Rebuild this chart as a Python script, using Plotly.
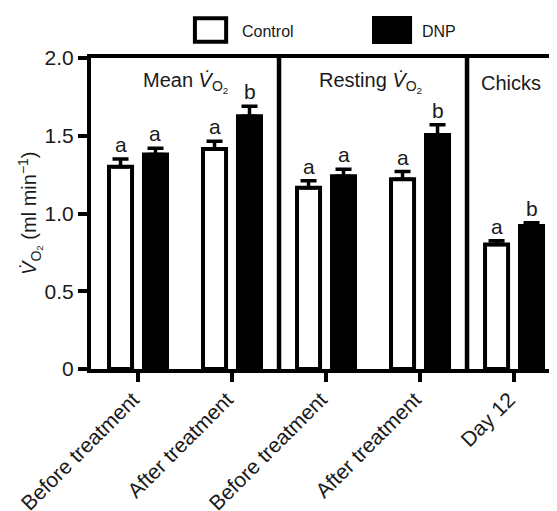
import plotly.graph_objects as go

categories = ["Before treatment", "After treatment", "Before treatment", "After treatment", "Day 12"]
control = [1.30, 1.415, 1.165, 1.22, 0.80]
control_err = [0.05, 0.05, 0.045, 0.05, 0.025]
dnp = [1.38, 1.625, 1.24, 1.505, 0.92]
dnp_err = [0.04, 0.065, 0.045, 0.065, 0.02]
control_letters = ["a", "a", "a", "a", "a"]
dnp_letters = ["a", "b", "a", "b", "b"]
panel_titles = ["Mean <i>V\u0307</i><sub>O<sub>2</sub></sub>",
                "Resting <i>V\u0307</i><sub>O<sub>2</sub></sub>",
                "Chicks"]
panel_centers = [0.5, 2.47, 3.97]
dividers = [1.5, 3.5]
ytick_vals = [0, 0.5, 1.0, 1.5, 2.0]
ytick_text = ["0", "0.5", "1.0", "1.5", "2.0"]

FONT = "Liberation Sans, Arial, sans-serif"
TXT = "#1a1a1a"
xs = list(range(len(categories)))
W = 0.245
OFF = 0.186

fig = go.Figure()
fig.add_trace(go.Bar(
    x=xs, y=control, width=W, offset=-OFF - W / 2, name="Control",
    marker=dict(color="white", line=dict(color="black", width=4)),
    error_y=dict(type="data", array=control_err, arrayminus=[0] * 5, symmetric=False,
                 color="black", thickness=3.5, width=8),
))
fig.add_trace(go.Bar(
    x=xs, y=dnp, width=W, offset=OFF - W / 2, name="DNP",
    marker=dict(color="black", line=dict(color="black", width=4)),
    error_y=dict(type="data", array=dnp_err, arrayminus=[0] * 5, symmetric=False,
                 color="black", thickness=3.5, width=8),
))

annotations = []
for i in xs:
    annotations.append(dict(x=i - OFF, y=control[i] + control_err[i], text=control_letters[i],
                            xref="x", yref="y", showarrow=False, yanchor="bottom", yshift=1,
                            font=dict(size=21, family=FONT, color=TXT)))
    annotations.append(dict(x=i + OFF, y=dnp[i] + dnp_err[i], text=dnp_letters[i],
                            xref="x", yref="y", showarrow=False, yanchor="bottom", yshift=1,
                            font=dict(size=21, family=FONT, color=TXT)))
for t, c in zip(panel_titles, panel_centers):
    annotations.append(dict(x=c, y=1.84, text=t, xref="x", yref="y", showarrow=False,
                            yanchor="middle", font=dict(size=20, family=FONT, color=TXT)))
# y axis title
annotations.append(dict(x=-0.13, y=0.5, xref="paper", yref="paper", showarrow=False,
                        xanchor="center", yanchor="middle",
                        text="<i>V\u0307</i><sub>O<sub>2</sub></sub> (ml min<sup>\u22121</sup>)",
                        textangle=-90, font=dict(size=20, family=FONT, color=TXT)))
# legend texts
annotations.append(dict(x=0.320, y=1.085, xref="paper", yref="paper", showarrow=False,
                        text="Control", xanchor="left", yanchor="middle",
                        font=dict(size=16, family=FONT, color=TXT)))
annotations.append(dict(x=0.706, y=1.085, xref="paper", yref="paper", showarrow=False,
                        text="DNP", xanchor="left", yanchor="middle",
                        font=dict(size=16, family=FONT, color=TXT)))

shapes = []
for d in dividers:
    shapes.append(dict(type="line", xref="x", yref="y", x0=d, x1=d, y0=0, y1=2.0,
                       line=dict(color="black", width=4.5)))
# thin right border
shapes.append(dict(type="line", xref="paper", yref="y", x0=0.994, x1=0.994, y0=0, y1=2.0,
                   line=dict(color="#444", width=1.2)))
# legend boxes
shapes.append(dict(type="rect", xref="paper", yref="paper", x0=0.223, x1=0.290, y0=1.052, y1=1.128,
                   line=dict(color="black", width=4), fillcolor="white"))
shapes.append(dict(type="rect", xref="paper", yref="paper", x0=0.603, x1=0.689, y0=1.045, y1=1.135,
                   line=dict(color="black", width=0), fillcolor="black"))

fig.update_layout(
    template="none",
    width=549, height=503,
    margin=dict(l=83, r=0, t=50, b=142, autoexpand=False),
    paper_bgcolor="white", plot_bgcolor="white",
    showlegend=False, barmode="overlay",
    font=dict(family=FONT, color=TXT),
    annotations=annotations, shapes=shapes,
    xaxis=dict(range=[-0.5, 4.457], tickmode="array", tickvals=xs, ticktext=categories,
               tickangle=-45, ticks="outside", ticklen=9, tickwidth=4, tickcolor="black",
               ticklabelshift=-5, ticklabelstandoff=-3,
               showline=True, linewidth=4, linecolor="black", mirror=True, automargin=False,
               showgrid=False, zeroline=False, tickfont=dict(size=21, family=FONT, color=TXT)),
    yaxis=dict(range=[0, 2.0], tickmode="array", tickvals=ytick_vals, ticktext=ytick_text,
               ticks="outside", ticklen=9, tickwidth=4, tickcolor="black", automargin=False,
               showline=True, linewidth=4, linecolor="black",
               showgrid=False, zeroline=False, tickfont=dict(size=21, family=FONT, color=TXT)),
)

fig.write_html("out.html")
